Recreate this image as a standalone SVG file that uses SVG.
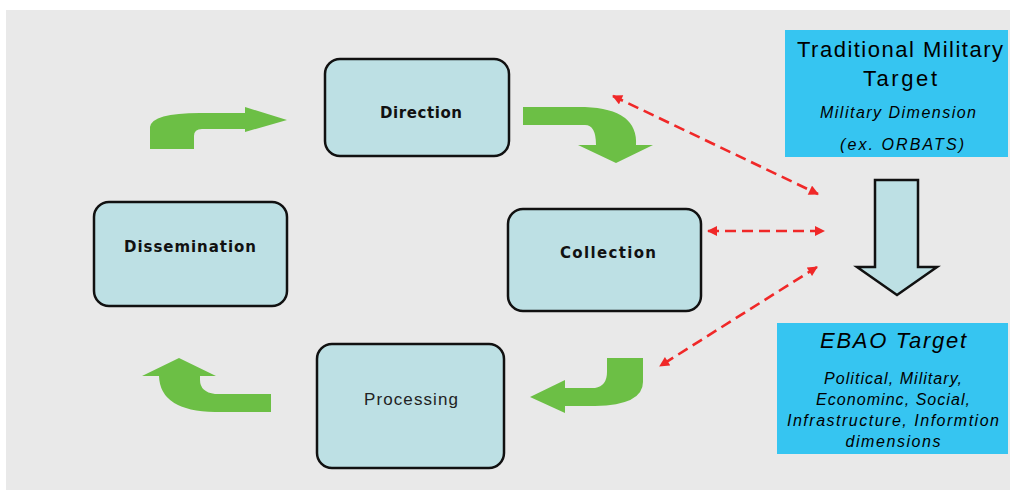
<svg xmlns="http://www.w3.org/2000/svg" width="1010" height="495" viewBox="0 0 1010 495">
<defs>
<style>
.node{fill:#BDE0E4;stroke:#111;stroke-width:2.5}
.lbl{font-family:"DejaVu Sans",sans-serif;font-weight:bold;font-size:15px;fill:#111;text-anchor:middle}
.green{fill:#6CBF45}
.red{stroke:#F02828;stroke-width:2.6;stroke-dasharray:11 6;fill:none;marker-start:url(#ah);marker-end:url(#ah)}
.blue{fill:#36C5F1}
.t1{font-family:"Liberation Sans",Arial,sans-serif;font-size:22px;fill:#000;text-anchor:middle}
.t2{font-family:"Liberation Sans",Arial,sans-serif;font-style:italic;font-size:16px;fill:#000;text-anchor:middle}
.t3{font-family:"Liberation Sans",Arial,sans-serif;font-style:italic;font-size:22px;fill:#000;text-anchor:middle}
</style>
<marker id="ah" viewBox="0 0 10 10" refX="9" refY="5" markerWidth="11" markerHeight="10" orient="auto-start-reverse" markerUnits="userSpaceOnUse">
<path d="M0,0 L10,5 L0,10 Z" fill="#F02828"/>
</marker>
</defs>
<rect x="0" y="0" width="1010" height="495" fill="#fff"/>
<rect x="6" y="10" width="1004" height="480" fill="#E9E9E9"/>

<g id="green-arrows">
<path class="green" d="M150,149 L150,127 Q152,113 200,113 L245,113 L245,107 L287,120 L245,132 L245,129 L202,129 Q194,129 194,136 L194,149 Z"/>
<path class="green" d="M523,107 L585,107 Q638,109 636,145 L653,145 L616,163 L578,145 L596,145 Q596,125 585,125 L523,125 Z"/>
<path class="green" d="M643,358 L643,382 Q643,405 595,406 L565,406 L565,413 L530,397 L565,380 L565,388 L595,388 Q607,386 607,372 L607,358 Z"/>
<path class="green" d="M271,394 L215,394 Q200,392 200,380 L200,376 L216,376 L179,358 L142,376 L159,376 Q160,411 215,412 L271,412 Z"/>
</g>

<g id="node-direction">
<rect class="node" x="325" y="59" width="184" height="97" rx="15"/>
<text class="lbl" x="421" y="118" textLength="82" lengthAdjust="spacing">Direction</text>
</g>
<g id="node-dissemination">
<rect class="node" x="94" y="202" width="193" height="104" rx="15"/>
<text class="lbl" x="190" y="252" textLength="132" lengthAdjust="spacing">Dissemination</text>
</g>
<g id="node-collection">
<rect class="node" x="508" y="209" width="193" height="102" rx="15"/>
<text class="lbl" x="608" y="258" textLength="96" lengthAdjust="spacing">Collection</text>
</g>
<g id="node-processing">
<rect class="node" x="317" y="344" width="187" height="124" rx="15"/>
<text x="411" y="405" font-family="'Liberation Sans',Arial,sans-serif" font-size="17" fill="#222" text-anchor="middle" textLength="94" lengthAdjust="spacing">Processing</text>
</g>

<g id="node-traditional">
<rect class="blue" x="785" y="30" width="223" height="127"/>
<text class="t1" x="900" y="57" textLength="206" lengthAdjust="spacing">Traditional Military</text>
<text class="t1" x="900" y="86" textLength="74" lengthAdjust="spacing">Target</text>
<text class="t2" x="898" y="118" textLength="156" lengthAdjust="spacing">Military Dimension</text>
<text class="t2" x="902" y="150" textLength="124" lengthAdjust="spacing">(ex. ORBATS)</text>
</g>

<g id="node-down-arrow">
<path d="M875,180 L918,180 L918,267 L937,267 L897,295 L857,267 L875,267 Z" fill="#BDE0E4" stroke="#111" stroke-width="2.5" stroke-linejoin="miter"/>
</g>

<g id="node-ebao">
<rect class="blue" x="777" y="323" width="231" height="131"/>
<text class="t3" x="893" y="348" textLength="146" lengthAdjust="spacing">EBAO Target</text>
<text class="t2" x="893" y="384" textLength="138" lengthAdjust="spacing">Political, Military,</text>
<text class="t2" x="893" y="405" textLength="154" lengthAdjust="spacing">Econominc, Social,</text>
<text class="t2" x="893" y="426" textLength="212" lengthAdjust="spacing">Infrastructure, Informtion</text>
<text class="t2" x="893" y="447" textLength="95" lengthAdjust="spacing">dimensions</text>
</g>

<g id="connectors">
<line class="red" x1="613" y1="96" x2="818" y2="194"/>
<line class="red" x1="708" y1="231" x2="824" y2="231"/>
<line class="red" x1="817" y1="267" x2="660" y2="366"/>
</g>
</svg>
